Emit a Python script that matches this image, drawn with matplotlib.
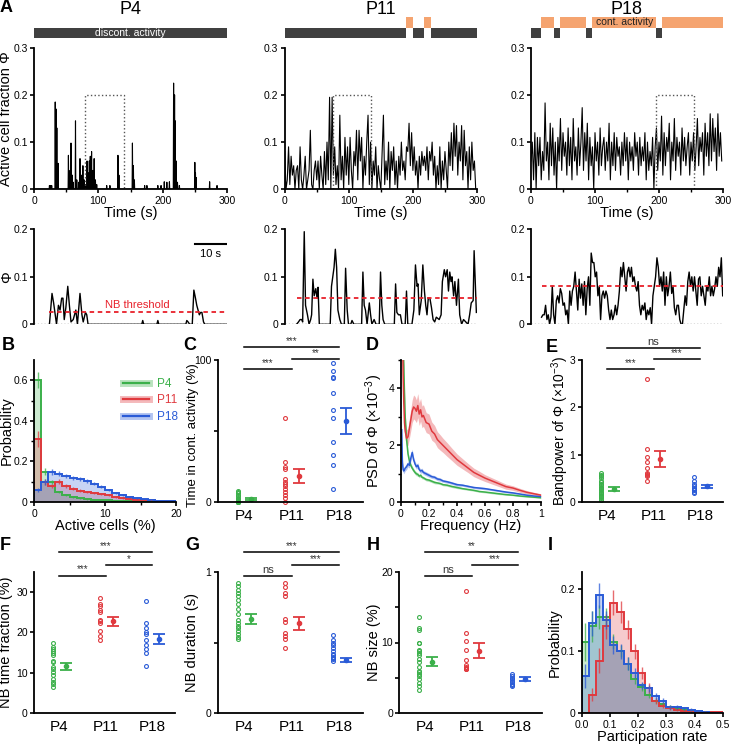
import numpy as np
import matplotlib
matplotlib.use('Agg')
from matplotlib import pyplot as plt
from matplotlib.lines import Line2D
from matplotlib.patches import Rectangle
import matplotlib.transforms as mtransforms

plt.rcParams['font.family'] = ['Liberation Sans', 'DejaVu Sans']
plt.rcParams['mathtext.fontset'] = 'custom'
plt.rcParams['mathtext.rm'] = 'Liberation Sans'
plt.rcParams['mathtext.it'] = 'Liberation Sans:italic'
plt.rcParams['axes.linewidth'] = 1.3
plt.rcParams['xtick.major.width'] = 1.2
plt.rcParams['ytick.major.width'] = 1.2
plt.rcParams['xtick.minor.width'] = 1.0
plt.rcParams['ytick.minor.width'] = 1.0
plt.rcParams['xtick.major.size'] = 3.0
plt.rcParams['ytick.major.size'] = 3.0
plt.rcParams['xtick.minor.size'] = 2.2
plt.rcParams['ytick.minor.size'] = 2.2
plt.rcParams['xtick.major.pad'] = 2.0
plt.rcParams['ytick.major.pad'] = 1.5
plt.rcParams['xtick.labelsize'] = 7.5
plt.rcParams['ytick.labelsize'] = 7.5

LABEL_FS = 10.5

GREEN = '#3bb04a'
RED = '#e0393e'
BLUE = '#2a5bd7'
ORANGE = '#f5a470'
DARK = '#404040'
COLORS = [GREEN, RED, BLUE]

ages = ['P4', 'P11', 'P18']

# ---------------- A: activity traces ----------------
# P4 full trace, sparse events (time s, fraction)
p4_event_t = [23.9, 26, 27.5, 33.2, 34.3, 35.3, 37.4, 53.5, 56, 57.6, 59.7, 61.2, 64.4, 66.4, 69.5,
              71.6, 73.7, 75.8, 77.9, 80, 82.5, 84, 86, 87.7, 89.3, 91.3, 93.4, 95.5, 97.6, 113, 118,
              130.3, 131.8, 153, 154.7, 156.2, 171.8, 175.4, 192.5, 197.7, 202.4, 206.6, 210.7, 217,
              218.5, 219.5, 221, 223, 226, 250, 251, 252, 273, 284.4]
p4_event_v = [0.008, 0.008, 0.008, 0.185, 0.17, 0.13, 0.055, 0.072, 0.04, 0.098, 0.03, 0.015, 0.145,
              0.02, 0.015, 0.065, 0.03, 0.05, 0.02, 0.01, 0.06, 0.035, 0.06, 0.07, 0.08, 0.04, 0.065,
              0.02, 0.01, 0.008, 0.008, 0.072, 0.03, 0.098, 0.05, 0.02, 0.008, 0.008, 0.008, 0.008,
              0.016, 0.015, 0.016, 0.225, 0.2, 0.145, 0.06, 0.015, 0.008, 0.057, 0.035, 0.025, 0.016,
              0.008]

# P11 / P18 full traces, one value every 2 s
p11_trace = [0.08, 0.0, 0.02, 0.09, 0.01, 0.07, 0.03, 0.05, 0.0, 0.04,
             0.05, 0.0, 0.09, 0.02, 0.0, 0.03, 0.07, 0.0, 0.02, 0.04,
             0.125, 0.01, 0.0, 0.04, 0.06, 0.02, 0.06, 0.0, 0.07, 0.03,
             0.0, 0.08, 0.01, 0.1, 0.02, 0.195, 0.0, 0.195, 0.03, 0.09,
             0.01, 0.05, 0.0, 0.157, 0.02, 0.07, 0.0, 0.11, 0.03, 0.09,
             0.01, 0.11, 0.04, 0.0, 0.08, 0.05, 0.125, 0.02, 0.125, 0.06,
             0.11, 0.0, 0.07, 0.03, 0.1, 0.157, 0.01, 0.1, 0.0, 0.06,
             0.03, 0.09, 0.0, 0.05, 0.02, 0.0, 0.08, 0.157, 0.01, 0.06,
             0.02, 0.1, 0.0, 0.08, 0.04, 0.09, 0.01, 0.06, 0.0, 0.07,
             0.03, 0.1, 0.04, 0.06, 0.02, 0.09, 0.08, 0.14, 0.05, 0.12,
             0.04, 0.09, 0.03, 0.06, 0.0, 0.07, 0.03, 0.08, 0.05, 0.07,
             0.04, 0.09, 0.02, 0.08, 0.06, 0.1, 0.03, 0.07, 0.0, 0.05,
             0.01, 0.09, 0.0, 0.06, 0.02, 0.08, 0.04, 0.0, 0.1, 0.05,
             0.12, 0.04, 0.14, 0.07, 0.135, 0.03, 0.1, 0.06, 0.135, 0.02,
             0.125, 0.05, 0.08, 0.0, 0.09, 0.02, 0.1, 0.04, 0.06, 0.0]
p18_trace = [0.06, 0.1, 0.02, 0.12, 0.0, 0.11, 0.05, 0.11, 0.02, 0.08,
             0.04, 0.183, 0.06, 0.1, 0.02, 0.14, 0.05, 0.13, 0.03, 0.1,
             0.0, 0.11, 0.06, 0.15, 0.04, 0.12, 0.07, 0.1, 0.03, 0.13,
             0.05, 0.11, 0.02, 0.15, 0.06, 0.09, 0.03, 0.13, 0.05, 0.1,
             0.173, 0.04, 0.12, 0.06, 0.14, 0.02, 0.11, 0.05, 0.09, 0.0,
             0.12, 0.06, 0.1, 0.03, 0.13, 0.05, 0.09, 0.11, 0.04, 0.1,
             0.06, 0.14, 0.02, 0.1, 0.05, 0.12, 0.04, 0.11, 0.07, 0.09,
             0.03, 0.1, 0.05, 0.12, 0.06, 0.11, 0.02, 0.1, 0.06, 0.09,
             0.04, 0.12, 0.07, 0.1, 0.03, 0.11, 0.05, 0.09, 0.06, 0.12,
             0.02, 0.1, 0.04, 0.08, 0.05, 0.11, 0.0, 0.09, 0.13, 0.04,
             0.1, 0.06, 0.155, 0.03, 0.12, 0.05, 0.11, 0.08, 0.14, 0.02,
             0.1, 0.06, 0.15, 0.04, 0.11, 0.07, 0.1, 0.03, 0.13, 0.06,
             0.11, 0.05, 0.09, 0.12, 0.03, 0.1, 0.06, 0.12, 0.04, 0.09,
             0.15, 0.05, 0.11, 0.08, 0.12, 0.03, 0.14, 0.07, 0.12, 0.05,
             0.16, 0.06, 0.15, 0.08, 0.13, 0.04, 0.16, 0.07, 0.12, 0.06]
trace_dt = 2.0

# zoomed 60 s windows (time relative to window start)
window_start = [80, 75, 195]
window_len = 60
nb_threshold = [0.025, 0.055, 0.08]

p4_zoom_t = [4.8, 5.6, 6.1, 6.6, 7.0, 7.6, 8.1, 8.6, 9.0, 9.4, 9.9, 10.5, 11.0, 11.5, 12.2, 13.0,
             13.5, 14.3, 14.9, 15.3, 16.0, 16.4, 16.8, 33.5, 33.8, 34.1, 38.2, 38.5, 38.8, 47.2,
             47.5, 47.9, 48.4, 49.2, 49.7, 50.2, 50.6, 51.0, 51.4, 51.8, 52.2, 52.7, 53.1, 60]
p4_zoom_v = [0, 0.065, 0.045, 0.02, 0, 0.04, 0.03, 0.055, 0.055, 0.01, 0.035, 0.08, 0.04, 0.005,
             0.01, 0.03, 0, 0.065, 0.02, 0.005, 0.025, 0.02, 0, 0, 0.008, 0, 0, 0.008, 0, 0, 0.008,
             0.005, 0, 0, 0.072, 0.055, 0.04, 0.03, 0.02, 0.025, 0.025, 0.005, 0, 0]

p11_zoom_t = [3.7, 4.3, 4.8, 5.3, 5.6, 6.1, 6.5, 7.1, 7.6, 8.1, 8.4, 8.8, 9.2, 9.7, 10.1, 10.4, 10.8,
              14.2, 14.6, 15.4, 15.8, 16.2, 16.6, 17.2, 17.7, 18.6, 19.0, 19.5, 19.9, 20.6, 21.0,
              21.6, 24.0, 24.4, 24.8, 25.2, 25.7, 26.4, 26.8, 27.2, 27.9, 28.5, 29.5, 29.9, 30.3,
              30.7, 31.2, 34.2, 34.6, 35.0, 35.5, 36.1, 36.6, 37.6, 38.0, 38.4, 39.7, 40.3, 40.8,
              41.3, 41.6, 42.0, 42.6, 43.1, 43.6, 44.0, 44.4, 44.8, 45.3, 45.8, 46.3, 46.8, 47.3,
              48.2, 48.8, 49.2, 49.8, 50.2, 50.7, 51.1, 51.5, 51.9, 52.2, 52.7, 53.1, 53.6, 54.2,
              54.6, 55.2, 55.8, 56.5, 57.2, 57.7, 58.2, 58.8, 59.1, 59.4, 59.8]
p11_zoom_v = [0, 0.005, 0.01, 0.01, 0.005, 0.195, 0.04, 0.02, 0, 0.01, 0.02, 0.095, 0.06, 0.075,
              0.055, 0.078, 0, 0, 0.08, 0.12, 0.158, 0.12, 0.03, 0.01, 0, 0, 0.118, 0.03, 0, 0, 0.008,
              0, 0, 0.11, 0.04, 0.03, 0, 0.045, 0.02, 0, 0.01, 0, 0, 0.11, 0.04, 0.01, 0, 0, 0.085,
              0.025, 0.02, 0.02, 0, 0, 0.07, 0, 0, 0.03, 0.125, 0.08, 0.085, 0.02, 0.05, 0.125, 0.07,
              0.04, 0.02, 0.055, 0.055, 0.035, 0.01, 0.005, 0.015, 0.01, 0.02, 0.09, 0.115, 0.1,
              0.115, 0.07, 0.11, 0.09, 0.1, 0.06, 0.09, 0.04, 0.095, 0.02, 0, 0.01, 0.005, 0, 0.02,
              0.045, 0.05, 0.155, 0.1, 0.025]

p18_zoom_v = [0.015, 0.02, 0.02, 0.04, 0.01, 0.02, 0.0, 0.015, 0.08, 0.02, 0.0, 0.05, 0.06, 0.045,
              0.075, 0.065, 0.04, 0.045, 0.02, 0.03, 0.0, 0.07, 0.04, 0.07, 0.08, 0.11, 0.07, 0.03,
              0.095, 0.055, 0.085, 0.04, 0.09, 0.02, 0.075, 0.1, 0.04, 0.15, 0.13, 0.13, 0.1, 0.11,
              0.06, 0.08, 0.01, 0.06, 0.07, 0.055, 0.07, 0.06, 0.03, 0.01, 0.03, 0.01, 0.02, 0.04,
              0.02, 0.04, 0.07, 0.12, 0.1, 0.13, 0.1, 0.07, 0.11, 0.12, 0.1, 0.12, 0.09, 0.1, 0.08,
              0.07, 0.09, 0.04, 0.02, 0.04, 0.03, 0.045, 0.01, 0.03, 0.02, 0.035, 0.0, 0.06, 0.08,
              0.1, 0.14, 0.12, 0.08, 0.1, 0.07, 0.11, 0.04, 0.1, 0.06, 0.08, 0.11, 0.065, 0.08,
              0.035, 0.02, 0.04, 0.04, 0.01, 0.0, 0.0, 0.03, 0.06, 0.04, 0.09, 0.11, 0.08, 0.1, 0.07,
              0.1, 0.07, 0.04, 0.095, 0.1, 0.06, 0.08, 0.06, 0.04, 0.08, 0.07, 0.1, 0.06, 0.08, 0.06,
              0.075, 0.1, 0.08, 0.12, 0.1, 0.14, 0.06]
p18_zoom_span = (3.3, 59.9)

# activity state segments (s)
discont_segs = [[(0, 300)], [(0, 190), (200, 218), (228, 300)],
                [(0, 15.6), (36, 45.3), (86, 95.8), (196, 205)]]
cont_segs = [[], [(190, 200), (218, 228)], [(15.6, 36), (45.3, 86), (95.8, 196), (205, 300)]]

# ---------------- B: active cell distribution ----------------
b_edges = list(range(0, 21))
b_p4 = [0.6, 0.15, 0.1, 0.05, 0.035, 0.025, 0.02, 0.015, 0.012, 0.01, 0.008, 0.006, 0.005, 0.004,
        0.003, 0.002, 0.002, 0.001, 0.001, 0.001]
b_p11 = [0.31, 0.1, 0.08, 0.1, 0.08, 0.065, 0.055, 0.05, 0.045, 0.04, 0.033, 0.025, 0.02, 0.015,
         0.012, 0.01, 0.008, 0.006, 0.005, 0.004]
b_p18 = [0.06, 0.1, 0.15, 0.14, 0.13, 0.12, 0.115, 0.105, 0.09, 0.075, 0.06, 0.045, 0.035, 0.025,
         0.02, 0.015, 0.01, 0.007, 0.005, 0.004]
b_p4_err = [0.04, 0.018, 0.01, 0.006, 0.005, 0.004, 0.003, 0.003, 0.002, 0.002, 0.002, 0.001, 0.001,
            0.001, 0.001, 0.001, 0.001, 0.001, 0.001, 0.001]
b_p11_err = [0.04, 0.015, 0.01, 0.012, 0.01, 0.008, 0.007, 0.006, 0.005, 0.005, 0.004, 0.004, 0.003,
             0.003, 0.002, 0.002, 0.002, 0.001, 0.001, 0.001]
b_p18_err = [0.01, 0.015, 0.015, 0.012, 0.01, 0.01, 0.01, 0.009, 0.008, 0.007, 0.006, 0.005, 0.004,
             0.003, 0.003, 0.002, 0.002, 0.001, 0.001, 0.001]

# ---------------- C: time in continuous activity ----------------
c_p4 = [0, 0, 0, 0, 0, 0.5, 1, 1.5, 2, 3, 4, 5, 6, 7, 8]
c_p11 = [59, 28, 25, 23, 16, 14, 13, 11, 9, 7, 5, 3, 0]
c_p18 = [98, 92, 88, 87, 77, 65, 59, 42, 33, 26, 9]
c_mean = [2.0, 18.5, 57]
c_sem = [0.8, 4.8, 9.2]

# ---------------- D: PSD ----------------
psd_freq = [0.005, 0.01, 0.015, 0.02, 0.025, 0.03, 0.04, 0.05, 0.06, 0.07, 0.08, 0.09, 0.1, 0.11,
            0.12, 0.13, 0.14, 0.15, 0.16, 0.18, 0.2, 0.22, 0.24, 0.26, 0.28, 0.3, 0.33, 0.36, 0.4,
            0.44, 0.48, 0.52, 0.56, 0.6, 0.65, 0.7, 0.75, 0.8, 0.85, 0.9, 0.95, 1.0]
psd_p4 = [9, 7, 5.5, 4.8, 3.8, 3.0, 2.2, 1.7, 1.45, 1.3, 1.2, 1.12, 1.05, 1.0, 0.98, 0.92, 0.95,
          0.88, 0.86, 0.8, 0.78, 0.74, 0.7, 0.68, 0.66, 0.62, 0.6, 0.56, 0.52, 0.48, 0.45, 0.42,
          0.38, 0.36, 0.33, 0.3, 0.27, 0.25, 0.22, 0.2, 0.18, 0.16]
psd_p11 = [9, 6.5, 4.5, 3.5, 2.8, 2.5, 2.25, 2.3, 2.6, 2.9, 3.2, 3.35, 3.3, 3.2, 3.4, 3.1, 3.25,
           3.0, 3.05, 2.8, 2.75, 2.5, 2.4, 2.2, 2.1, 2.0, 1.85, 1.7, 1.5, 1.35, 1.2, 1.05, 0.95,
           0.85, 0.75, 0.65, 0.55, 0.5, 0.42, 0.35, 0.3, 0.25]
psd_p18 = [2.55, 1.4, 1.15, 1.1, 1.15, 1.2, 1.25, 1.35, 1.3, 1.55, 1.75, 1.5, 1.35, 1.25, 1.3,
           1.15, 1.1, 1.12, 1.05, 1.0, 0.95, 0.9, 0.88, 0.82, 0.8, 0.75, 0.72, 0.68, 0.62, 0.6,
           0.56, 0.52, 0.5, 0.48, 0.44, 0.4, 0.36, 0.33, 0.29, 0.25, 0.22, 0.2]
psd_p4_sem = [0.5, 0.4, 0.3, 0.25, 0.2, 0.15, 0.12, 0.1, 0.09, 0.08, 0.08, 0.07, 0.07, 0.07, 0.06,
              0.06, 0.06, 0.06, 0.05, 0.05, 0.05, 0.05, 0.05, 0.04, 0.04, 0.04, 0.04, 0.04, 0.04,
              0.03, 0.03, 0.03, 0.03, 0.03, 0.03, 0.03, 0.02, 0.02, 0.02, 0.02, 0.02, 0.02]
psd_p11_sem = [1.0, 0.8, 0.6, 0.45, 0.35, 0.3, 0.3, 0.3, 0.35, 0.38, 0.4, 0.42, 0.42, 0.4, 0.42,
               0.4, 0.4, 0.38, 0.38, 0.35, 0.35, 0.32, 0.3, 0.28, 0.27, 0.25, 0.24, 0.22, 0.2,
               0.18, 0.16, 0.15, 0.14, 0.12, 0.11, 0.1, 0.09, 0.08, 0.07, 0.06, 0.05, 0.05]
psd_p18_sem = [0.3, 0.15, 0.1, 0.1, 0.1, 0.1, 0.1, 0.1, 0.1, 0.12, 0.12, 0.1, 0.1, 0.09, 0.09,
               0.08, 0.08, 0.08, 0.07, 0.07, 0.07, 0.06, 0.06, 0.06, 0.06, 0.05, 0.05, 0.05, 0.05,
               0.04, 0.04, 0.04, 0.04, 0.04, 0.03, 0.03, 0.03, 0.03, 0.03, 0.02, 0.02, 0.02]

# ---------------- E: bandpower ----------------
e_p4 = [0.62, 0.58, 0.55, 0.5, 0.45, 0.42, 0.38, 0.35, 0.32, 0.3, 0.28, 0.25, 0.22, 0.2, 0.18,
        0.15, 0.12, 0.1, 0.08, 0.05]
e_p11 = [2.6, 1.13, 0.95, 0.85, 0.72, 0.62, 0.6, 0.58, 0.55, 0.45]
e_p18 = [0.53, 0.45, 0.38, 0.33, 0.3, 0.28, 0.25, 0.22, 0.2]
e_mean = [0.28, 0.9, 0.33]
e_sem = [0.04, 0.17, 0.03]

# ---------------- F, G, H: network bursts ----------------
f_p4 = [17.4, 16.5, 16, 15.5, 14.9, 14.3, 13, 12.6, 11.4, 11, 10.3, 9.5, 8.5, 7.8, 7.3, 6.6]
f_p11 = [28.4, 27.1, 26.5, 25.6, 25, 23.1, 22.7, 22.2, 20.4, 19, 18.2]
f_p18 = [27.7, 22.3, 21.1, 20, 19.6, 18.2, 17, 15.9, 14.9, 11.7]
f_mean = [11.6, 22.7, 18.4]
f_sem = [0.8, 1.1, 1.2]

g_p4 = [0.92, 0.9, 0.87, 0.85, 0.83, 0.8, 0.77, 0.74, 0.7, 0.66, 0.64, 0.62, 0.6, 0.58, 0.56,
        0.54, 0.525]
g_p11 = [0.918, 0.894, 0.847, 0.828, 0.664, 0.647, 0.565, 0.546, 0.525, 0.459]
g_p18 = [0.55, 0.52, 0.5, 0.48, 0.46, 0.44, 0.42, 0.41, 0.40, 0.39, 0.38, 0.37]
g_mean = [0.666, 0.636, 0.376]
g_sem = [0.035, 0.046, 0.015]

h_p4 = [13.6, 12, 11.7, 10, 10, 9, 8.8, 8.5, 8.3, 7.7, 7.2, 6.5, 6, 5.8, 5.5, 5.2, 4.8, 4.3, 3.8,
        3.3]
h_p11 = [17.3, 11.4, 10.2, 9.0, 7.5, 6.8, 6.6, 6.4, 6.3, 6.2]
h_p18 = [5.6, 5.3, 5.0, 4.8, 4.6, 4.4, 4.2, 4.0, 3.8]
h_mean = [7.3, 8.85, 4.85]
h_sem = [0.65, 1.05, 0.25]

# ---------------- I: participation rate ----------------
i_edges = [0, 0.025, 0.05, 0.075, 0.1, 0.125, 0.15, 0.175, 0.2, 0.225, 0.25, 0.275, 0.3, 0.325,
           0.35, 0.375, 0.4, 0.425, 0.45, 0.475, 0.5]
i_p4 = [0.115, 0.14, 0.155, 0.155, 0.115, 0.1, 0.08, 0.055, 0.042, 0.03, 0.02, 0.015, 0.01, 0.008,
        0.006, 0.004, 0.003, 0.002, 0.001, 0.001]
i_p11 = [0.0, 0.03, 0.085, 0.14, 0.178, 0.163, 0.135, 0.1, 0.065, 0.04, 0.02, 0.012, 0.008, 0.006,
         0.004, 0.003, 0.002, 0.002, 0.002, 0.002]
i_p18 = [0.06, 0.145, 0.19, 0.15, 0.11, 0.1, 0.08, 0.065, 0.045, 0.04, 0.028, 0.02, 0.01, 0.01,
         0.008, 0.006, 0.004, 0.002, 0.001, 0.001]
i_p4_err = [0.03, 0.025, 0.02, 0.015, 0.012, 0.01, 0.01, 0.008, 0.006, 0.005, 0.004, 0.003, 0.003,
            0.002, 0.002, 0.002, 0.001, 0.001, 0.001, 0.001]
i_p11_err = [0.0, 0.01, 0.02, 0.02, 0.02, 0.018, 0.015, 0.012, 0.01, 0.008, 0.005, 0.004, 0.003,
             0.002, 0.002, 0.002, 0.001, 0.001, 0.001, 0.001]
i_p18_err = [0.02, 0.02, 0.02, 0.015, 0.015, 0.012, 0.01, 0.008, 0.006, 0.005, 0.005, 0.004,
             0.003, 0.003, 0.002, 0.002, 0.002, 0.001, 0.001, 0.001]


W, H = 732, 745


def add_ax(fig, x0, y0, x1, y1):
    ax = fig.add_axes([x0 / W, 1 - y1 / H, (x1 - x0) / W, (y1 - y0) / H])
    ax.spines['top'].set_visible(False)
    ax.spines['right'].set_visible(False)
    return ax


def ylabel_at(ax, text, x_px, x0_px, width_px, fs=LABEL_FS, yfrac=0.5):
    # centre of the rotated label placed at x_px (figure pixels)
    ax.set_ylabel(text, fontsize=fs)
    ax.yaxis.set_label_coords((x_px - x0_px) / width_px, yfrac)
    ax.yaxis.label.set_verticalalignment('center')


def sparse_trace(times, vals, dt, t_end):
    t = np.arange(0, t_end + dt / 2, dt)
    v = np.zeros_like(t)
    for ti, vi in zip(times, vals):
        v[int(round(ti / dt))] = vi
    return t, v


def hist_panel(ax, edges, series, errs):
    for vals, c in zip(series, COLORS):
        ax.stairs(vals, edges, fill=True, color=c, alpha=0.26, lw=0)
    centers = (np.array(edges[:-1]) + np.array(edges[1:])) / 2
    for vals, err, c in zip(series, errs, COLORS):
        vals = np.array(vals)
        err = np.array(err)
        ax.vlines(centers, vals - err, vals + err, color=c, lw=1.0, alpha=0.75)
        ax.stairs(vals, edges, color=c, lw=1.4)


def dot_panel(ax, groups, means, sems, sig, sig_y):
    for i, (vals, m, s, c) in enumerate(zip(groups, means, sems, COLORS)):
        x = i + 1
        ax.plot([x - 0.13] * len(vals), vals, 'o', mfc='none', mec=c, ms=2.8, mew=0.8,
                clip_on=False)
        ax.errorbar(x + 0.15, m, yerr=s, fmt='o', color=c, ms=3, capsize=4.5,
                    elinewidth=1.3, capthick=1.3, clip_on=False)
    ax.set_xlim(0.45, 3.5)
    ax.set_xticks([1, 2, 3])
    ax.set_xticklabels(ages, fontsize=11)
    ax.tick_params(axis='x', length=0, pad=5)
    trans = mtransforms.blended_transform_factory(ax.transData, ax.transAxes)
    for (a, b, label), yy in zip(sig, sig_y):
        ax.plot([a, b], [yy, yy], color='k', lw=1.1, transform=trans, clip_on=False)
        ax.text((a + b) / 2, yy + 0.008, label, ha='center', va='bottom', transform=trans,
                fontsize=8 if label == 'ns' else 7, color='#333333')


def main():
    fig = plt.figure(figsize=(W / 100, H / 100), dpi=100)

    # ---- A top row ----
    top_x = [(34, 227), (284.7, 477), (531, 723)]
    p4_t, p4_v = sparse_trace(p4_event_t, p4_event_v, 0.5, 300)
    full_traces = [(p4_t, p4_v),
                   (np.arange(len(p11_trace)) * trace_dt, np.array(p11_trace)),
                   (np.arange(len(p18_trace)) * trace_dt, np.array(p18_trace))]
    for k, (x0, x1) in enumerate(top_x):
        ax = add_ax(fig, x0, 47.7, x1, 189.3)
        t, v = full_traces[k]
        ax.plot(t, v, color='k', lw=0.8)
        ws = window_start[k]
        ax.plot([ws, ws, ws + window_len, ws + window_len], [0, 0.2, 0.2, 0], ls=':',
                color='#555555', lw=1.0)
        ax.set_xlim(0, 300)
        ax.set_ylim(0, 0.3)
        ax.set_xticks([0, 100, 200, 300])
        ax.set_xticks([50, 150, 250], minor=True)
        ax.set_yticks([0, 0.1, 0.2, 0.3])
        ax.set_yticklabels(['0', '0.1', '0.2', '0.3'])
        ax.set_xlabel('Time (s)', fontsize=LABEL_FS, labelpad=0)
        if k == 0:
            ylabel_at(ax, 'Active cell fraction Φ', 6.5, x0, x1 - x0)
        trans = mtransforms.blended_transform_factory(ax.transData, ax.transAxes)
        for a, b in discont_segs[k]:
            ax.add_patch(Rectangle((a, 1.066), b - a, 0.071, transform=trans, color=DARK,
                                   clip_on=False, lw=0))
        for a, b in cont_segs[k]:
            ax.add_patch(Rectangle((a, 1.141), b - a, 0.078, transform=trans, color=ORANGE,
                                   clip_on=False, lw=0))
        if k == 0:
            ax.text(150, 1.101, 'discont. activity', color='white', fontsize=7.5, ha='center',
                    va='center', transform=trans)
        if k == 2:
            ax.text(146, 1.18, 'cont. activity', color='#222222', fontsize=7.5, ha='center',
                    va='center', transform=trans)
        ax.text(150, 1.27, ages[k], fontsize=13, ha='center', va='center', transform=trans)

    # ---- A bottom row ----
    zoom_traces = [(np.array(p4_zoom_t), np.array(p4_zoom_v)),
                   (np.array(p11_zoom_t), np.array(p11_zoom_v)),
                   (np.linspace(p18_zoom_span[0], p18_zoom_span[1], len(p18_zoom_v)),
                    np.array(p18_zoom_v))]
    for k, (x0, x1) in enumerate(top_x):
        ax = add_ax(fig, x0, 229.3, x1, 324.3)
        ax.spines['bottom'].set_visible(False)
        ax.axhline(0, color='k', ls=':', lw=0.9)
        t, v = zoom_traces[k]
        ax.plot(t, v, color='k', lw=1.0)
        ax.plot([t[0], window_len], [nb_threshold[k]] * 2, color='#e8202a', ls=(0, (2.5, 2)),
                lw=1.3)
        ax.set_xlim(0, window_len)
        ax.set_ylim(0, 0.2)
        ax.set_xticks([])
        ax.set_yticks([0, 0.1, 0.2])
        ax.set_yticklabels(['0', '0.1', '0.2'])
        if k == 0:
            ylabel_at(ax, 'Φ', 7, x0, x1 - x0)
            ax.plot([50, 60], [0.17, 0.17], color='k', lw=1.5)
            ax.text(55, 0.158, '10 s', ha='center', va='top', fontsize=8)
            ax.text(32, 0.031, 'NB threshold', color='#e8202a', ha='center', va='bottom',
                    fontsize=8)

    # ---- B ----
    ax = add_ax(fig, 34, 360, 176, 502)
    hist_panel(ax, b_edges, [b_p4, b_p11, b_p18], [b_p4_err, b_p11_err, b_p18_err])
    ax.set_xlim(0, 20)
    ax.set_ylim(0, 0.7)
    ax.set_xticks([0, 10, 20])
    ax.set_xticks([5, 15], minor=True)
    ax.set_yticks([0, 0.2, 0.4, 0.6])
    ax.set_yticklabels(['0', '0.2', '0.4', '0.6'])
    ax.set_yticks([0.1, 0.3, 0.5], minor=True)
    ax.set_xlabel('Active cells (%)', fontsize=LABEL_FS, labelpad=0)
    ylabel_at(ax, 'Probability', 6.5, 34, 142)
    handles = [(Line2D([], [], color=c, lw=5, alpha=0.35), Line2D([], [], color=c, lw=1.6))
               for c in COLORS]
    leg = ax.legend(handles, ages, loc='upper left', bbox_to_anchor=(0.55, 0.95), frameon=False,
                    fontsize=8.5, handlelength=2.2, labelspacing=0.4, handletextpad=0.7)
    for txt, c in zip(leg.get_texts(), COLORS):
        txt.set_color(c)

    # ---- C ----
    ax = add_ax(fig, 217.7, 360, 363, 502)
    dot_panel(ax, [c_p4, c_p11, c_p18], c_mean, c_sem,
              [(1, 3, '***'), (2, 3, '**'), (1, 2, '***')], [1.092, 1.007, 0.937])
    ax.set_ylim(0, 100)
    ax.set_yticks([0, 50, 100])
    ax.set_yticklabels(['0', '', '100'])
    ylabel_at(ax, 'Time in cont. activity (%)', 193, 217.7, 145.3, fs=9.5, yfrac=0.47)

    # ---- D ----
    ax = add_ax(fig, 401, 360, 541, 502.3)
    for vals, sem, c in zip([psd_p4, psd_p18, psd_p11], [psd_p4_sem, psd_p18_sem, psd_p11_sem],
                            [GREEN, BLUE, RED]):
        vals = np.array(vals)
        sem = np.array(sem)
        ax.fill_between(psd_freq, vals - sem, vals + sem, color=c, alpha=0.35, lw=0)
        ax.plot(psd_freq, vals, color=c, lw=1.1)
    ax.set_xlim(0, 1)
    ax.set_ylim(0, 5)
    ax.set_xticks([0, 0.2, 0.4, 0.6, 0.8, 1])
    ax.set_xticklabels(['0', '0.2', '0.4', '0.6', '0.8', '1'])
    ax.set_xticks([0.1, 0.3, 0.5, 0.7, 0.9], minor=True)
    ax.set_yticks([0, 2, 4])
    ax.set_yticks([1, 3, 5], minor=True)
    ax.set_xlabel('Frequency (Hz)', fontsize=LABEL_FS, labelpad=0)
    ylabel_at(ax, 'PSD of Φ (×10$^{-3}$)', 374, 401, 140)

    # ---- E ----
    ax = add_ax(fig, 581.7, 360, 723, 502)
    dot_panel(ax, [e_p4, e_p11, e_p18], e_mean, e_sem,
              [(1, 3, 'ns'), (2, 3, '***'), (1, 2, '***')], [1.087, 1.007, 0.937])
    ax.set_ylim(0, 3)
    ax.set_yticks([0, 1, 2, 3])
    ylabel_at(ax, 'Bandpower of Φ (×10$^{-3}$)', 560, 581.7, 141.3, fs=10)

    # ---- F ----
    ax = add_ax(fig, 34, 571.7, 175, 713.3)
    dot_panel(ax, [f_p4, f_p11, f_p18], f_mean, f_sem,
              [(1, 3, '***'), (2, 3, '*'), (1, 2, '***')], [1.141, 1.047, 0.972])
    ax.set_ylim(0, 35)
    ax.set_yticks([0, 10, 20, 30])
    ylabel_at(ax, 'NB time fraction (%)', 6.5, 34, 141)

    # ---- G ----
    ax = add_ax(fig, 217.7, 571.7, 363, 713.3)
    dot_panel(ax, [g_p4, g_p11, g_p18], g_mean, g_sem,
              [(1, 3, '***'), (2, 3, '***'), (1, 2, 'ns')], [1.141, 1.047, 0.972])
    ax.set_ylim(0, 1)
    ax.set_yticks([0, 0.5, 1])
    ax.set_yticklabels(['0', '', '1'])
    ylabel_at(ax, 'NB duration (s)', 192, 217.7, 145.3)

    # ---- H ----
    ax = add_ax(fig, 399.3, 571.7, 541.7, 713.3)
    dot_panel(ax, [h_p4, h_p11, h_p18], h_mean, h_sem,
              [(1, 3, '**'), (2, 3, '***'), (1, 2, 'ns')], [1.141, 1.047, 0.972])
    ax.set_ylim(0, 20)
    ax.set_yticks([0, 5, 10, 15, 20])
    ax.set_yticklabels(['0', '', '10', '', '20'])
    ylabel_at(ax, 'NB size (%)', 374, 399.3, 142.4)

    # ---- I ----
    ax = add_ax(fig, 581.7, 571.7, 723, 713.3)
    hist_panel(ax, i_edges, [i_p4, i_p11, i_p18], [i_p4_err, i_p11_err, i_p18_err])
    ax.set_xlim(0, 0.5)
    ax.set_ylim(0, 0.228)
    ax.set_xticks([0, 0.1, 0.2, 0.3, 0.4, 0.5])
    ax.set_xticklabels(['0.0', '0.1', '0.2', '0.3', '0.4', '0.5'])
    ax.set_yticks([0, 0.1, 0.2])
    ax.set_yticklabels(['0', '0.1', '0.2'])
    ax.set_xlabel('Participation rate', fontsize=LABEL_FS, labelpad=0)
    ylabel_at(ax, 'Probability', 555, 581.7, 141.3)

    # panel letters
    for letter, (px, py) in zip('ABCDEFGHI', [(6, 8), (8, 346), (190, 346), (372, 346),
                                              (552, 347), (5, 546), (192, 546), (373, 546),
                                              (550, 546)]):
        fig.text(px / W, 1 - py / H, letter, fontsize=13, fontweight='bold', ha='center',
                 va='center')

    fig.savefig('out.png', dpi=100)


if __name__ == '__main__':
    main()
